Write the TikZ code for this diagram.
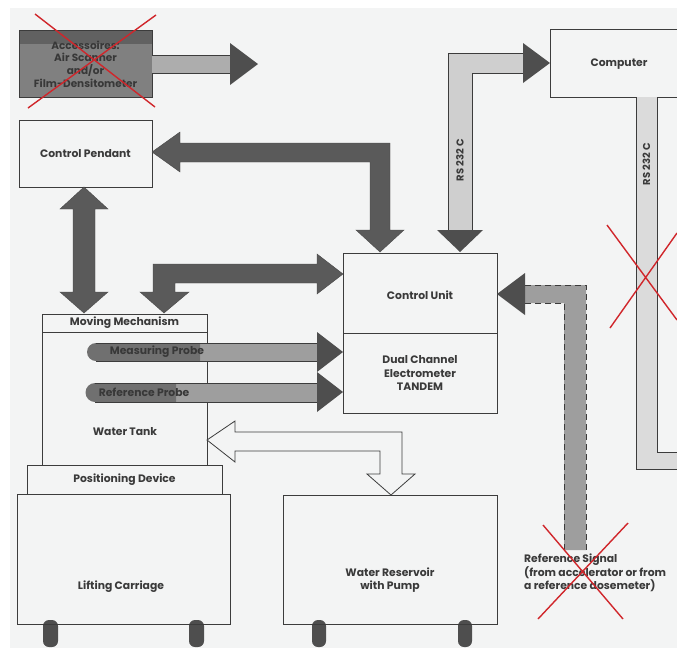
\documentclass[tikz,border=0pt]{standalone}
\usepackage{fontspec}
\setmainfont{Poppins}
\definecolor{pagecol}{HTML}{F3F4F4}
\definecolor{linecol}{HTML}{3C3C3C}
\definecolor{txtcol}{HTML}{3A3A3A}
\definecolor{darkarrow}{HTML}{5A5A5A}
\definecolor{headcol}{HTML}{4E4E4E}
\definecolor{midgray}{HTML}{9E9E9E}
\definecolor{lightgray}{HTML}{CFCFCF}
\definecolor{crossred}{HTML}{D0262B}
\tikzset{
  box/.style={draw=linecol, line width=0.8pt, fill=pagecol, inner sep=0pt, outer sep=0pt},
  lbl/.style={text=txtcol, font=\fontsize{10.8}{13.5}\selectfont\bfseries, align=center, inner sep=0pt},
  fatdark/.style={fill=darkarrow, draw=darkarrow!80!black, line width=0.4pt},
  arrhead/.style={fill=headcol, draw=none},
  lightshaft/.style={fill=lightgray, draw=linecol, line width=0.7pt},
  midshaft/.style={fill=midgray, draw=none},
  hollow/.style={fill=pagecol, draw=linecol, line width=0.8pt},
  leg/.style={fill=headcol, draw=none, rounded corners=6pt},
  redx/.style={draw=crossred, line width=1.4pt},
}
\begin{document}
\begin{tikzpicture}[x=1pt,y=-1pt]
% page
\fill[white] (0,0) rectangle (677,651);
\fill[pagecol] (10,8) rectangle (677,648);
\useasboundingbox (0,0) rectangle (677,651);

% ---------- boxes ----------
\node[box, fill=black!50, minimum width=133pt, minimum height=67pt] (acc) at (85.5,63.5) {};
\fill[black!62] (acc.north west) rectangle ([yshift=-14pt]acc.north east);
\draw[linecol, line width=0.8pt] (acc.north west) rectangle (acc.south east);
\node[lbl, text=black!78, font=\fontsize{10.5}{12.7}\selectfont\bfseries] at (85.5,64) {Accessoires:\\Air Scanner\\and/or\\Film-Densitometer};

\node[box, minimum width=133pt, minimum height=67pt] (pendant) at (85.5,153.5) {};
\node[lbl] at (pendant.center) {Control Pendant};

\node[box, minimum width=165pt, minimum height=18pt] (mm) at (124.5,323) {};
\node[lbl] at (mm.center) {Moving Mechanism};
\node[box, minimum width=165pt, minimum height=133pt] (tank) at (124.5,398.5) {};
\node[lbl] at (125,432) {Water Tank};
\node[box, minimum width=195pt, minimum height=29pt] (posdev) at (124.5,479.5) {};
\node[lbl] at (posdev.center) {Positioning Device};
\node[box, minimum width=213pt, minimum height=130pt] (lift) at (123.5,559) {};
\node[lbl] at (121,587) {Lifting Carriage};

\node[box, minimum width=154pt, minimum height=80pt] (cu) at (420,293) {};
\node[lbl] at (420,295) {Control Unit};
\node[box, minimum width=154pt, minimum height=80pt] (dce) at (420,373) {};
\node[lbl] at (420,373) {Dual Channel\\Electrometer\\TANDEM};

\node[box, minimum width=214pt, minimum height=129pt] (res) at (390,559.5) {};
\node[lbl] at (390,580) {Water Reservoir\\with Pump};

\node[box, minimum width=140pt, minimum height=68pt] (comp) at (620,63) {};
\node[lbl] at (619,64) {Computer};

% legs
\fill[leg] (43,620) -- (43,647) -- (58,647) -- (58,620) -- cycle;
\fill[leg] (189,620) -- (189,647) -- (204,647) -- (204,620) -- cycle;
\fill[leg] (312,620) -- (312,647) -- (326,647) -- (326,620) -- cycle;
\fill[leg] (458,620) -- (458,647) -- (472,647) -- (472,620) -- cycle;
\draw[linecol, line width=0.8pt] (lift.south west) -- (lift.south east);
\draw[linecol, line width=0.8pt] (res.south west) -- (res.south east);

% ---------- arrows ----------
% accessories -> right
\fill[midgray!85] (acc.east |- 0,55) rectangle (230,73);
\draw[linecol, line width=0.5pt] (acc.east |- 0,55) -- (230,55) (acc.east |- 0,73) -- (230,73);
\coordinate (accend) at (258,64);
\fill[arrhead] (accend) -- (230,43) -- (230,85) -- cycle;

% control pendant <-> control unit
\fill[fatdark] (pendant.east |- 0,152) -- (180,132) -- (180,143) -- (390,143) -- (390,230)
  -- (404,230) -- (380,252) -- (356,230) -- (370,230) -- (370,162) -- (180,162) -- (180,172) -- cycle;

% control pendant <-> moving mechanism
\fill[fatdark] (84,187) -- (108,209) -- (95,209) -- (95,292) -- (108,292) -- (84,313)
  -- (60,292) -- (73,292) -- (73,209) -- (60,209) -- cycle;

% control unit <-> moving mechanism
\fill[fatdark] (cu.west |- 0,274) -- (317,254) -- (317,264) -- (153,264) -- (153,292) -- (140,292)
  -- (164,313) -- (189,292) -- (175,292) -- (175,283) -- (317,283) -- (317,294) -- cycle;

% measuring probe
\fill[midgray] (200,343) rectangle (317,361);
\fill[black!56] (200,343) -- (96,343) arc[start angle=90, end angle=270, radius=9pt] -- (200,361) -- cycle;
\draw[linecol, line width=0.5pt] (96,343) -- (317,343) (96,361) -- (317,361);
\fill[arrhead] (dce.west |- 0,352) -- (317,332) -- (317,372) -- cycle;
\node[lbl, text=black!78] at (157,352) {Measuring Probe};

% reference probe
\fill[midgray] (176,383) rectangle (317,402);
\fill[black!56] (176,383) -- (95,383) arc[start angle=90, end angle=270, radius=9.5pt] -- (176,402) -- cycle;
\draw[linecol, line width=0.5pt] (95,383) -- (317,383) (95,402) -- (317,402);
\fill[arrhead] (dce.west |- 0,392) -- (317,372) -- (317,412) -- cycle;
\node[lbl, text=black!78] at (144,392.5) {Reference Probe};

% water tank <-> reservoir (hollow)
\draw[hollow] (tank.east |- 0,440) -- (235,421) -- (235,432) -- (402,432) -- (402,474) -- (415,474)
  -- (391,495) -- (367,474) -- (380,474) -- (380,451) -- (235,451) -- (235,462) -- cycle;

% RS 232 C : control unit <-> computer
\filldraw[lightshaft] (523,53) -- (448,53) -- (448,230) -- (472,230) -- (472,73) -- (523,73);
\fill[arrhead] (comp.west |- 0,63) -- (523,43) -- (523,83) -- cycle;
\fill[arrhead] (437,230) -- (460,252) -- (483,230) -- cycle;
\node[lbl, rotate=90, font=\fontsize{10}{12}\selectfont\bfseries] at (460,160) {RS 232 C};

% RS 232 C : computer down to right edge
\filldraw[fill=lightgray!75, draw=linecol, line width=0.7pt] (636,97) -- (636,469) -- (680,469) -- (680,452) -- (657,452) -- (657,97);
\node[lbl, rotate=90, font=\fontsize{10}{12}\selectfont\bfseries] at (646.5,164) {RS 232 C};

% reference signal
\fill[midgray] (525,285) -- (586,285) -- (586,550) -- (564,550) -- (564,303) -- (525,303) -- cycle;
\draw[linecol, line width=0.7pt, dash pattern=on 6pt off 4pt] (525,285) -- (586,285) -- (586,550)
  (564,550) -- (564,303) -- (525,303);
\fill[arrhead] (cu.east |- 0,294) -- (525,273) -- (525,315) -- cycle;
\node[lbl, align=left, anchor=west] at (524,573) {Reference Signal\\(from accelerator or from\\a reference dosemeter)};

% ---------- red crosses ----------
\draw[redx] (35,14) -- (155,107) (156,15) -- (28,108);
\draw[redx] (607,225) -- (677,320) (610,328) -- (677,233);
\draw[redx] (543,525) -- (623,619) (628,523) -- (538,619);
\end{tikzpicture}
\end{document}
